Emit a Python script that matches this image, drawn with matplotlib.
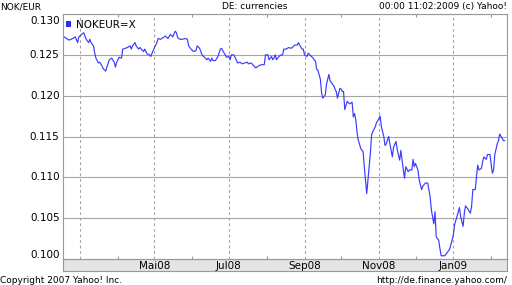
import matplotlib
matplotlib.use("Agg")
import matplotlib.pyplot as plt
from matplotlib.patches import Patch
import pandas as pd

series_name = "NOKEUR=X"

dates = [
    "2008-02-16", "2008-02-19", "2008-02-21", "2008-02-24", "2008-02-26", "2008-02-28", "2008-02-29",
    "2008-03-03", "2008-03-04", "2008-03-05", "2008-03-06", "2008-03-08", "2008-03-09", "2008-03-10",
    "2008-03-12", "2008-03-13", "2008-03-14", "2008-03-16", "2008-03-17", "2008-03-18", "2008-03-20",
    "2008-03-22", "2008-03-23", "2008-03-25", "2008-03-27", "2008-03-28", "2008-03-29", "2008-03-30",
    "2008-03-31", "2008-04-02", "2008-04-04", "2008-04-05", "2008-04-07", "2008-04-09", "2008-04-11",
    "2008-04-12", "2008-04-13", "2008-04-15", "2008-04-16", "2008-04-18", "2008-04-19", "2008-04-22",
    "2008-04-23", "2008-04-25", "2008-04-27", "2008-04-28", "2008-04-29", "2008-05-01", "2008-05-03",
    "2008-05-04", "2008-05-06", "2008-05-08", "2008-05-10", "2008-05-12", "2008-05-14", "2008-05-16",
    "2008-05-18", "2008-05-19", "2008-05-20", "2008-05-22", "2008-05-24", "2008-05-26", "2008-05-28",
    "2008-05-29", "2008-05-31", "2008-06-02", "2008-06-04", "2008-06-05", "2008-06-07", "2008-06-09",
    "2008-06-11", "2008-06-13", "2008-06-14", "2008-06-16", "2008-06-17", "2008-06-18", "2008-06-20",
    "2008-06-22", "2008-06-24", "2008-06-25", "2008-06-26", "2008-06-28", "2008-06-29", "2008-07-01",
    "2008-07-02", "2008-07-03", "2008-07-05", "2008-07-07", "2008-07-08", "2008-07-10", "2008-07-12",
    "2008-07-14", "2008-07-16", "2008-07-17", "2008-07-19", "2008-07-20", "2008-07-21", "2008-07-23",
    "2008-07-25", "2008-07-26", "2008-07-28", "2008-07-30", "2008-07-31", "2008-08-02", "2008-08-03",
    "2008-08-05", "2008-08-06", "2008-08-07", "2008-08-08", "2008-08-09", "2008-08-11", "2008-08-13",
    "2008-08-14", "2008-08-15", "2008-08-17", "2008-08-19", "2008-08-21", "2008-08-22", "2008-08-24",
    "2008-08-26", "2008-08-27", "2008-08-28", "2008-08-30", "2008-08-31", "2008-09-01", "2008-09-03",
    "2008-09-04", "2008-09-06", "2008-09-08", "2008-09-10", "2008-09-11", "2008-09-12", "2008-09-14",
    "2008-09-15", "2008-09-16", "2008-09-18", "2008-09-19", "2008-09-21", "2008-09-22", "2008-09-23",
    "2008-09-25", "2008-09-26", "2008-09-27", "2008-09-28", "2008-09-30", "2008-10-01", "2008-10-02",
    "2008-10-03", "2008-10-04", "2008-10-06", "2008-10-08", "2008-10-10", "2008-10-11", "2008-10-12",
    "2008-10-13", "2008-10-14", "2008-10-15", "2008-10-17", "2008-10-18", "2008-10-19", "2008-10-20",
    "2008-10-21", "2008-10-22", "2008-10-23", "2008-10-25", "2008-10-26", "2008-10-27", "2008-10-29",
    "2008-10-30", "2008-10-31", "2008-11-02", "2008-11-03", "2008-11-05", "2008-11-06", "2008-11-07",
    "2008-11-09", "2008-11-10", "2008-11-12", "2008-11-13", "2008-11-15", "2008-11-16", "2008-11-18",
    "2008-11-19", "2008-11-20", "2008-11-21", "2008-11-22", "2008-11-23", "2008-11-25", "2008-11-26",
    "2008-11-28", "2008-11-29", "2008-11-30", "2008-12-01", "2008-12-03", "2008-12-04", "2008-12-06",
    "2008-12-07", "2008-12-09", "2008-12-11", "2008-12-13", "2008-12-14", "2008-12-16", "2008-12-17",
    "2008-12-18", "2008-12-20", "2008-12-21", "2008-12-22", "2008-12-25", "2008-12-27", "2008-12-29",
    "2008-12-31", "2009-01-01", "2009-01-02", "2009-01-04", "2009-01-06", "2009-01-07", "2009-01-09",
    "2009-01-10", "2009-01-11", "2009-01-13", "2009-01-15", "2009-01-16", "2009-01-17", "2009-01-19",
    "2009-01-20", "2009-01-21", "2009-01-22", "2009-01-24", "2009-01-25", "2009-01-26", "2009-01-28",
    "2009-01-29", "2009-01-31", "2009-02-02", "2009-02-03", "2009-02-04", "2009-02-06", "2009-02-07",
    "2009-02-08", "2009-02-10", "2009-02-11", "2009-02-12",
]

values = [
    0.1273, 0.1270, 0.1268, 0.1270, 0.1272, 0.1265, 0.1272,
    0.1276, 0.1277, 0.1273, 0.1269, 0.1265, 0.1269, 0.1265,
    0.1261, 0.1252, 0.1246, 0.1240, 0.1241, 0.1239, 0.1233,
    0.1230, 0.1235, 0.1244, 0.1246, 0.1243, 0.1241, 0.1235,
    0.1241, 0.1247, 0.1246, 0.1257, 0.1258, 0.1259, 0.1261,
    0.1257, 0.1261, 0.1265, 0.1261, 0.1257, 0.1259, 0.1254,
    0.1257, 0.1251, 0.1250, 0.1248, 0.1252, 0.1259, 0.1265,
    0.1270, 0.1269, 0.1271, 0.1273, 0.1270, 0.1275, 0.1272,
    0.1279, 0.1277, 0.1271, 0.1269, 0.1269, 0.1270, 0.1269,
    0.1261, 0.1257, 0.1254, 0.1255, 0.1261, 0.1258, 0.1250,
    0.1247, 0.1244, 0.1246, 0.1242, 0.1246, 0.1243, 0.1243,
    0.1248, 0.1257, 0.1258, 0.1255, 0.1250, 0.1247, 0.1248,
    0.1244, 0.1250, 0.1250, 0.1244, 0.1240, 0.1241, 0.1239,
    0.1240, 0.1241, 0.1239, 0.1240, 0.1239, 0.1237, 0.1234,
    0.1236, 0.1237, 0.1238, 0.1238, 0.1250, 0.1250, 0.1244,
    0.1248, 0.1244, 0.1246, 0.1250, 0.1244, 0.1248, 0.1250,
    0.1250, 0.1257, 0.1257, 0.1259, 0.1258, 0.1259, 0.1262,
    0.1262, 0.1265, 0.1262, 0.1257, 0.1257, 0.1250, 0.1248,
    0.1252, 0.1249, 0.1246, 0.1242, 0.1232, 0.1231, 0.1220,
    0.1203, 0.1197, 0.1201, 0.1214, 0.1226, 0.1218, 0.1216,
    0.1212, 0.1208, 0.1205, 0.1197, 0.1209, 0.1208, 0.1205,
    0.1205, 0.1183, 0.1193, 0.1190, 0.1192, 0.1174, 0.1178,
    0.1171, 0.1156, 0.1146, 0.1136, 0.1133, 0.1132, 0.1113,
    0.1097, 0.1080, 0.1097, 0.1130, 0.1152, 0.1156, 0.1162,
    0.1167, 0.1169, 0.1175, 0.1162, 0.1150, 0.1139, 0.1141,
    0.1150, 0.1141, 0.1125, 0.1137, 0.1144, 0.1134, 0.1121,
    0.1133, 0.1121, 0.1109, 0.1099, 0.1113, 0.1107, 0.1109,
    0.1109, 0.1122, 0.1113, 0.1117, 0.1109, 0.1097, 0.1085,
    0.1089, 0.1093, 0.1093, 0.1076, 0.1060, 0.1043, 0.1058,
    0.1027, 0.1023, 0.1013, 0.1004, 0.1004, 0.1008, 0.1012,
    0.1023, 0.1029, 0.1042, 0.1052, 0.1063, 0.1052, 0.1040,
    0.1056, 0.1065, 0.1061, 0.1056, 0.1065, 0.1085, 0.1085,
    0.1101, 0.1115, 0.1109, 0.1111, 0.1119, 0.1125, 0.1122,
    0.1128, 0.1128, 0.1105, 0.1109, 0.1128, 0.1141, 0.1145,
    0.1153, 0.1148, 0.1145, 0.1145,
]

ytick_values = [0.100, 0.105, 0.110, 0.115, 0.120, 0.125, 0.130]
ytick_labels = ["0.100", "0.105", "0.110", "0.115", "0.120", "0.125", "0.130"]
major_months = ["2008-03-01", "2008-05-01", "2008-07-01", "2008-09-01", "2008-11-01", "2009-01-01"]
major_labels = ["", "Mai08", "Jul08", "Sep08", "Nov08", "Jan09"]
minor_months = ["2008-04-01", "2008-06-01", "2008-08-01", "2008-10-01", "2008-12-01", "2009-02-01"]
x_start, x_end = "2008-02-16", "2009-02-14"

W, H = 512, 285
L, R, T, B = 63, 507, 14, 259
STRIP_B = 271
GRID = "#a4a4a4"
FRAME = "#999999"
LINE = "#3a3aff"

fig = plt.figure(figsize=(W / 100, H / 100), dpi=100)
ax = fig.add_axes([L / W, 1 - B / H, (R - L) / W, (B - T) / H])
ax.set_zorder(2)

d = pd.to_datetime(dates)
ax.plot(d, values, color=LINE, lw=0.85, label=series_name)

xmin, xmax = pd.Timestamp(x_start), pd.Timestamp(x_end)
ax.set_xlim(xmin, xmax)
ax.set_ylim(ytick_values[0], ytick_values[-1])

ax.set_yticks(ytick_values)
ax.set_yticklabels([])
ax.tick_params(axis="y", length=0)
ax.set_xticks(pd.to_datetime(major_months))
ax.set_xticklabels([])
ax.set_xticks(pd.to_datetime(minor_months), minor=True)
ax.tick_params(axis="x", which="major", length=0)
ax.tick_params(axis="x", which="minor", direction="in", length=2.5, width=0.8,
               color=FRAME, top=True, bottom=True, labelbottom=False)
ax.set_axisbelow(True)
ax.grid(axis="y", color=GRID, lw=0.8, ls="-")
ax.grid(axis="x", which="major", color=GRID, lw=0.8, ls=(0, (2.5, 2.5)))
for s in ax.spines.values():
    s.set_color(FRAME)
    s.set_linewidth(0.8)

# y labels
for v, lab in zip(ytick_values, ytick_labels):
    dy = 0
    if v == ytick_values[-1]:
        dy = -5.3
    elif v == ytick_values[0]:
        dy = 2.9
    ax.annotate(lab, xy=(0, v), xycoords=("axes fraction", "data"),
                xytext=(-2.5, dy), textcoords="offset points",
                ha="right", va="center", fontsize=7.5, color="#000000",
                annotation_clip=False)

# legend
ax.legend(handles=[Patch(facecolor="#2a2aff", edgecolor="none")], labels=[series_name],
          loc="upper left", bbox_to_anchor=(66 / W, 1 - 19.5 / H), bbox_transform=fig.transFigure,
          frameon=False, fontsize=7.5, handlelength=0.5, handleheight=0.5,
          handletextpad=0.45, borderpad=0, borderaxespad=0)

# date strip
strip = fig.add_axes([L / W, 1 - STRIP_B / H, (R - L) / W, (STRIP_B - B) / H])
strip.set_zorder(1)
strip.set_facecolor("#e4e4e4")
strip.set_xlim(xmin, xmax)
strip.set_ylim(0, 1)
strip.set_xticks([])
strip.set_yticks([])
for s in strip.spines.values():
    s.set_color(FRAME)
    s.set_linewidth(0.8)
for m, lab in zip(pd.to_datetime(major_months), major_labels):
    if lab:
        strip.text(m, 0.45, lab, transform=strip.get_xaxis_transform(),
                   ha="center", va="center", fontsize=7.5)

# header / footer
fs = 6.5
fig.text(0 / W, 1 - 6.5 / H, "NOK/EUR", ha="left", va="center", fontsize=fs)
fig.text(255 / W, 1 - 6.5 / H, "DE: currencies", ha="center", va="center", fontsize=fs)
fig.text(507 / W, 1 - 6.5 / H, "00:00 11:02:2009 (c) Yahoo!", ha="right", va="center", fontsize=fs)
fig.text(0 / W, 1 - 280.5 / H, "Copyright 2007 Yahoo! Inc.", ha="left", va="center", fontsize=fs)
fig.text(507 / W, 1 - 280.5 / H, "http://de.finance.yahoo.com/", ha="right", va="center", fontsize=fs)

fig.savefig("out.png", dpi=100)
